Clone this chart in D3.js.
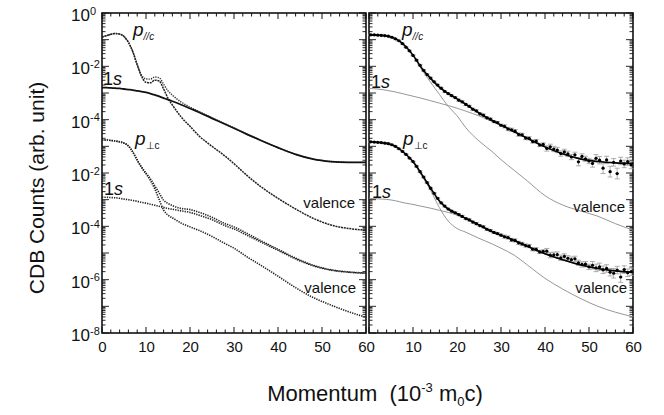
<!DOCTYPE html>
<html>
<head>
<meta charset="utf-8">
<script src="https://cdn.jsdelivr.net/npm/d3@7"></script>
<style>
  body { margin: 0; background: #fff; }
  text { font-family: "Liberation Sans", Arial, sans-serif; fill: #111; }
</style>
</head>
<body>
<div id="chart"></div>
<script>
// All intensities are log10 of the counts.
// The p-perp group is plotted 4 decades lower (its own tick labels).
const perpShift = -4;

// Left panel: calculated curves
const theoryMomentumLeft = [0,1,2,3,4,5,6,7,8,9,10,11,12,13,14,15,16,18,20,22,25,28,30,33,36,40,44,48,52,56,60];
const leftPar1s = [-2.80,-2.80,-2.81,-2.82,-2.83,-2.85,-2.87,-2.89,-2.92,-2.95,-2.98,-3.02,-3.07,-3.13,-3.19,-3.25,-3.31,-3.44,-3.58,-3.72,-3.95,-4.17,-4.32,-4.55,-4.77,-5.05,-5.30,-5.48,-5.57,-5.60,-5.60];
const leftParValence = [-0.90,-0.85,-0.80,-0.77,-0.79,-0.88,-1.10,-1.45,-1.95,-2.38,-2.60,-2.62,-2.52,-2.55,-2.85,-3.20,-3.45,-3.90,-4.25,-4.60,-5.00,-5.37,-5.65,-6.10,-6.50,-6.95,-7.35,-7.70,-7.95,-8.08,-8.14];
const leftParTotal = [-0.90,-0.85,-0.80,-0.77,-0.79,-0.88,-1.10,-1.45,-1.93,-2.33,-2.47,-2.48,-2.40,-2.43,-2.67,-2.92,-3.08,-3.34,-3.53,-3.69,-3.93,-4.16,-4.31,-4.55,-4.77,-5.05,-5.30,-5.48,-5.57,-5.60,-5.60];
const leftPerp1s = [-2.91,-2.91,-2.92,-2.93,-2.95,-2.98,-3.00,-3.03,-3.06,-3.10,-3.13,-3.17,-3.21,-3.25,-3.29,-3.33,-3.36,-3.42,-3.48,-3.58,-3.75,-3.98,-4.10,-4.34,-4.58,-4.90,-5.22,-5.48,-5.64,-5.72,-5.76];
const leftPerpValence = [-0.76,-0.76,-0.78,-0.80,-0.83,-0.88,-0.99,-1.22,-1.52,-1.80,-2.03,-2.28,-2.60,-3.00,-3.39,-3.58,-3.68,-3.88,-4.02,-4.15,-4.38,-4.65,-4.82,-5.15,-5.45,-5.87,-6.30,-6.67,-6.95,-7.20,-7.41];
const leftPerpTotal = [-0.76,-0.76,-0.78,-0.80,-0.83,-0.88,-0.98,-1.21,-1.51,-1.78,-2.00,-2.22,-2.48,-2.75,-3.02,-3.14,-3.22,-3.33,-3.37,-3.47,-3.66,-3.90,-4.02,-4.27,-4.53,-4.86,-5.19,-5.46,-5.63,-5.71,-5.75];

// Right panel: resolution-convoluted curves
const theoryMomentumRight = [0,2,4,6,8,10,12,14,16,18,20,22,25,28,30,33,36,40,44,48,52,56,60];
const rightParFit = [-0.82,-0.83,-0.86,-0.96,-1.20,-1.58,-2.07,-2.45,-2.78,-3.02,-3.22,-3.42,-3.75,-4.03,-4.20,-4.45,-4.70,-5.02,-5.28,-5.47,-5.57,-5.62,-5.64];
const rightPar1s = [-2.83,-2.85,-2.90,-2.96,-3.04,-3.12,-3.20,-3.29,-3.38,-3.47,-3.57,-3.68,-3.86,-4.07,-4.22,-4.46,-4.71,-5.03,-5.29,-5.48,-5.58,-5.62,-5.64];
const rightParValence = [-0.82,-0.83,-0.86,-0.97,-1.22,-1.60,-2.12,-2.60,-3.05,-3.50,-3.85,-4.30,-4.80,-5.20,-5.50,-5.90,-6.30,-6.85,-7.20,-7.42,-7.62,-7.90,-8.14];
const rightPerpFit = [-0.83,-0.85,-0.89,-1.00,-1.24,-1.57,-2.05,-2.57,-3.05,-3.35,-3.53,-3.70,-3.95,-4.20,-4.33,-4.53,-4.75,-5.03,-5.25,-5.44,-5.58,-5.67,-5.72];
const rightPerp1s = [-2.95,-2.97,-2.99,-3.04,-3.12,-3.18,-3.25,-3.32,-3.40,-3.48,-3.58,-3.72,-3.97,-4.21,-4.34,-4.54,-4.76,-5.04,-5.26,-5.45,-5.59,-5.68,-5.73];
const rightPerpValence = [-0.83,-0.85,-0.89,-1.00,-1.25,-1.60,-2.10,-2.65,-3.30,-3.80,-4.08,-4.22,-4.45,-4.66,-4.82,-5.08,-5.45,-5.95,-6.35,-6.70,-7.00,-7.22,-7.39];

// Right panel: measured CDB points
const measMomentum = [0.4,1.2,2.0,2.8,3.6,4.4,5.2,6.0,6.8,7.6,8.4,9.2,10.0,10.8,11.6,12.4,13.2,14.0,14.8,15.6,16.4,17.2,18.0,18.8,19.6,20.4,21.2,22.0,22.8,23.6,24.4,25.2,26.0,26.8,27.6,28.4,29.2,30.0,30.8,31.6,32.4,33.2,34.0,34.8,35.6,36.4,37.2,38.0,38.8,39.6,40.4,41.2,42.0,42.8,43.6,44.4,45.2,46.0,46.8,47.6,48.4,49.2,50.0,50.8,51.6,52.4,53.2,54.0,54.8,55.6,56.4,57.2,58.0,58.8,59.6];
const measPar = [-0.82,-0.82,-0.83,-0.84,-0.85,-0.87,-0.91,-0.97,-1.04,-1.15,-1.28,-1.42,-1.59,-1.77,-1.96,-2.15,-2.31,-2.44,-2.58,-2.70,-2.82,-2.94,-3.02,-3.10,-3.17,-3.27,-3.33,-3.43,-3.50,-3.61,-3.67,-3.78,-3.83,-3.93,-3.98,-4.07,-4.11,-4.21,-4.25,-4.35,-4.38,-4.43,-4.56,-4.57,-4.69,-4.70,-4.82,-4.80,-4.95,-4.93,-5.08,-5.02,-5.10,-5.14,-5.27,-5.21,-5.28,-5.40,-5.32,-5.58,-5.38,-5.47,-5.55,-5.64,-5.45,-5.52,-5.82,-5.51,-5.95,-5.60,-6.02,-5.55,-5.66,-5.57,-5.70];
const measParErr = [0.02,0.02,0.02,0.02,0.02,0.02,0.02,0.02,0.02,0.02,0.02,0.02,0.02,0.03,0.03,0.03,0.03,0.03,0.03,0.03,0.03,0.03,0.03,0.03,0.03,0.04,0.04,0.04,0.04,0.04,0.04,0.04,0.04,0.04,0.04,0.04,0.04,0.04,0.06,0.06,0.06,0.06,0.06,0.06,0.06,0.06,0.06,0.06,0.06,0.06,0.10,0.10,0.10,0.10,0.10,0.10,0.10,0.10,0.10,0.15,0.10,0.10,0.10,0.14,0.14,0.14,0.20,0.14,0.20,0.14,0.20,0.14,0.14,0.14,0.14];
const measPerp = [-0.83,-0.84,-0.85,-0.86,-0.88,-0.90,-0.94,-1.00,-1.09,-1.19,-1.30,-1.44,-1.57,-1.75,-1.95,-2.15,-2.36,-2.57,-2.76,-2.95,-3.12,-3.24,-3.35,-3.43,-3.49,-3.56,-3.63,-3.71,-3.76,-3.84,-3.90,-3.97,-4.02,-4.11,-4.16,-4.23,-4.27,-4.33,-4.39,-4.42,-4.51,-4.53,-4.62,-4.66,-4.72,-4.74,-4.86,-4.86,-4.96,-4.94,-4.93,-5.08,-5.07,-5.06,-5.18,-5.13,-5.20,-5.25,-5.22,-5.37,-5.43,-5.42,-5.52,-5.46,-5.56,-5.52,-5.63,-5.58,-5.72,-5.76,-5.64,-5.90,-5.62,-5.74,-5.70];
const measPerpErr = [0.02,0.02,0.02,0.02,0.02,0.02,0.02,0.02,0.02,0.02,0.02,0.02,0.02,0.03,0.03,0.03,0.03,0.03,0.03,0.03,0.03,0.03,0.03,0.03,0.03,0.04,0.04,0.04,0.04,0.04,0.04,0.04,0.04,0.04,0.04,0.04,0.04,0.04,0.06,0.06,0.06,0.06,0.06,0.06,0.06,0.06,0.06,0.06,0.06,0.06,0.10,0.10,0.10,0.10,0.10,0.10,0.10,0.10,0.10,0.10,0.10,0.10,0.10,0.14,0.14,0.14,0.14,0.14,0.14,0.18,0.14,0.20,0.14,0.14,0.14];
const measHalfBin = 0.4;

// Axis ticks
const yTickValues = [1, 1e-2, 1e-4, 1e-6, 1e-8, 1e-10, 1e-12];
const yTickExponents = ["0", "-2", "-4", "-2", "-4", "-6", "-8"];
const xTicksLeft = [0, 10, 20, 30, 40, 50, 60];
const xTicksRight = [10, 20, 30, 40, 50, 60];

const width = 664, height = 415;
const plotTop = 13, plotBottom = 333;

const svg = d3.select("#chart").append("svg")
  .attr("width", width).attr("height", height);

const y = d3.scaleLog().domain([1, 1e-12]).range([plotTop, plotBottom]);
const xLeft = d3.scaleLinear().domain([0, 60]).range([102, 366]);
const xRight = d3.scaleLinear().domain([0, 60]).range([369, 633]);

const makeLine = (x, shift) => d3.line()
  .x(d => x(d[0]))
  .y(d => y(Math.pow(10, d[1] + shift)))
  .curve(d3.curveMonotoneX);

const pairs = (xs, vs) => xs.map((m, i) => [m, vs[i]]);

// frames with inward ticks
const drawFrame = (x, showLeftLabels, xTicks) => {
  const g = svg.append("g");
  const x0 = x.range()[0], x1 = x.range()[1];
  const minorY = y.ticks(100);
  const minorX = d3.range(0, 61, 2);

  // y ticks both sides
  [[x0, 1], [x1, -1]].forEach(([px, dir]) => {
    g.selectAll(null).data(minorY).join("line")
      .attr("x1", px).attr("x2", d => {
        const isMajor = Math.abs(Math.log10(d) - Math.round(Math.log10(d))) < 1e-6;
        return px + dir * (isMajor ? 7 : 3.5);
      })
      .attr("y1", d => y(d)).attr("y2", d => y(d))
      .attr("stroke", "#111").attr("stroke-width", 0.9);
  });
  // x ticks top and bottom
  [[plotTop, 1], [plotBottom, -1]].forEach(([py, dir]) => {
    g.selectAll(null).data(minorX).join("line")
      .attr("x1", d => x(d)).attr("x2", d => x(d))
      .attr("y1", py).attr("y2", d => py + dir * (d % 10 === 0 ? 6 : 3.5))
      .attr("stroke", "#111").attr("stroke-width", 1);
  });
  g.append("rect")
    .attr("x", x0).attr("y", plotTop)
    .attr("width", x1 - x0).attr("height", plotBottom - plotTop)
    .attr("fill", "none").attr("stroke", "#111").attr("stroke-width", 1.6);

  // bottom labels
  const xAxis = d3.axisBottom(x).tickValues(xTicks).tickSize(0).tickPadding(8);
  svg.append("g").attr("transform", `translate(0,${plotBottom})`).call(xAxis)
    .call(a => a.select(".domain").remove())
    .call(a => a.selectAll("text").attr("font-size", 15).attr("fill", "#111")
      .style("font-family", "'Liberation Sans', Arial, sans-serif"));

  if (showLeftLabels) {
    const yAxis = d3.axisLeft(y).tickValues(yTickValues).tickSize(0).tickPadding(12)
      .tickFormat(() => "10");
    svg.append("g").attr("transform", `translate(${x0},0)`).call(yAxis)
      .call(a => a.select(".domain").remove())
      .call(a => a.selectAll("text").attr("font-size", 17).attr("fill", "#111")
        .attr("dy", "0.45em")
        .style("font-family", "'Liberation Sans', Arial, sans-serif"))
      .call(a => a.selectAll(".tick").each(function(d, i) {
        d3.select(this).append("text")
          .attr("x", -12).attr("y", 1)
          .attr("text-anchor", "start")
          .attr("font-size", 11).attr("fill", "#111")
          .text(yTickExponents[i]);
      }));
  }
};

drawFrame(xLeft, true, xTicksLeft);
drawFrame(xRight, false, xTicksRight);

// ---- left panel curves ----
const dotted = "1.3 1.1";
svg.append("path")
  .attr("d", makeLine(xLeft, 0)(pairs(theoryMomentumLeft, leftParTotal)))
  .attr("fill", "none").attr("stroke", "#333").attr("stroke-width", 1.4)
  .attr("stroke-dasharray", dotted);
svg.append("path")
  .attr("d", makeLine(xLeft, 0)(pairs(theoryMomentumLeft, leftParValence)))
  .attr("fill", "none").attr("stroke", "#222").attr("stroke-width", 1.5)
  .attr("stroke-dasharray", "2 0.8");
svg.append("path")
  .attr("d", makeLine(xLeft, 0)(pairs(theoryMomentumLeft, leftPar1s)))
  .attr("fill", "none").attr("stroke", "#111").attr("stroke-width", 1.8);

[leftPerpTotal, leftPerpValence, leftPerp1s].forEach(vs => {
  svg.append("path")
    .attr("d", makeLine(xLeft, perpShift)(pairs(theoryMomentumLeft, vs)))
    .attr("fill", "none").attr("stroke", "#222").attr("stroke-width", 1.6)
    .attr("stroke-dasharray", dotted);
});

// ---- right panel ----
[[rightPar1s, 0], [rightParValence, 0], [rightPerp1s, perpShift], [rightPerpValence, perpShift]]
  .forEach(([vs, s]) => {
    svg.append("path")
      .attr("d", makeLine(xRight, s)(pairs(theoryMomentumRight, vs)))
      .attr("fill", "none").attr("stroke", "#8a8a8a").attr("stroke-width", 0.9);
  });

const drawErrorBars = (vals, errs, shift) => {
  const g = svg.append("g").attr("stroke", "#9a9a9a").attr("stroke-width", 0.8);
  const data = measMomentum.map((m, i) => ({ m, v: vals[i] + shift, e: errs[i] }));
  const yv = v => y(Math.pow(10, v));
  g.selectAll(null).data(data).join("line")
    .attr("x1", d => xRight(d.m)).attr("x2", d => xRight(d.m))
    .attr("y1", d => yv(d.v - d.e)).attr("y2", d => yv(d.v + d.e));
  [-1, 1].forEach(k => {
    g.selectAll(null).data(data).join("line")
      .attr("x1", d => xRight(d.m) - 2.5).attr("x2", d => xRight(d.m) + 2.5)
      .attr("y1", d => yv(d.v + k * d.e)).attr("y2", d => yv(d.v + k * d.e));
  });
  g.selectAll(null).data(data).join("line")
    .attr("x1", d => xRight(d.m - measHalfBin)).attr("x2", d => xRight(d.m + measHalfBin))
    .attr("y1", d => yv(d.v)).attr("y2", d => yv(d.v));
};

drawErrorBars(measPar, measParErr, 0);
drawErrorBars(measPerp, measPerpErr, perpShift);

[[rightParFit, 0], [rightPerpFit, perpShift]].forEach(([vs, s]) => {
  svg.append("path")
    .attr("d", makeLine(xRight, s)(pairs(theoryMomentumRight, vs)))
    .attr("fill", "none").attr("stroke", "#000").attr("stroke-width", 1.6);
});

[[measPar, 0], [measPerp, perpShift]].forEach(([vals, s]) => {
  svg.append("g").selectAll("circle")
    .data(measMomentum.map((m, i) => [m, vals[i] + s]))
    .join("circle")
    .attr("cx", d => xRight(d[0]))
    .attr("cy", d => y(Math.pow(10, d[1])))
    .attr("r", 1.6).attr("fill", "#000");
});

// ---- annotations ----
const pLabel = (px, py, sub) => {
  const t = svg.append("text").attr("x", px).attr("y", py).attr("font-size", 19);
  t.append("tspan").attr("font-style", "italic").text("p");
  t.append("tspan").attr("font-size", 10).attr("dy", 4)
    .attr("font-style", sub === "//c" ? "italic" : "normal").text(sub);
};
const sLabel = (px, py) => {
  const t = svg.append("text").attr("x", px).attr("y", py).attr("font-size", 18);
  t.append("tspan").text("1");
  t.append("tspan").attr("font-style", "italic").text("s");
};
const vLabel = (px, py) => svg.append("text").attr("x", px).attr("y", py)
  .attr("font-size", 15).attr("text-anchor", "end").text("valence");

pLabel(133, 36, "//c");
pLabel(135, 145, "⊥c");
sLabel(103, 85);
sLabel(104, 195);
vLabel(355, 208);
vLabel(356, 293);

pLabel(402, 36, "//c");
pLabel(403, 145, "⊥c");
sLabel(371, 88);
sLabel(372, 198);
vLabel(625, 212);
vLabel(627, 293);

// axis titles
svg.append("text")
  .attr("transform", "translate(44,188) rotate(-90)")
  .attr("text-anchor", "middle").attr("font-size", 21)
  .text("CDB Counts (arb. unit)");

const xt = svg.append("text").attr("x", 375).attr("y", 401)
  .attr("text-anchor", "middle").attr("font-size", 22);
xt.append("tspan").text("Momentum\u00a0\u00a0(10");
xt.append("tspan").attr("font-size", 13).attr("dy", -9).text("-3");
xt.append("tspan").attr("dy", 9).text("\u00a0m");
xt.append("tspan").attr("font-size", 13).attr("dy", 5).text("0");
xt.append("tspan").attr("dy", -5).text("c)");
</script>
</body>
</html>
